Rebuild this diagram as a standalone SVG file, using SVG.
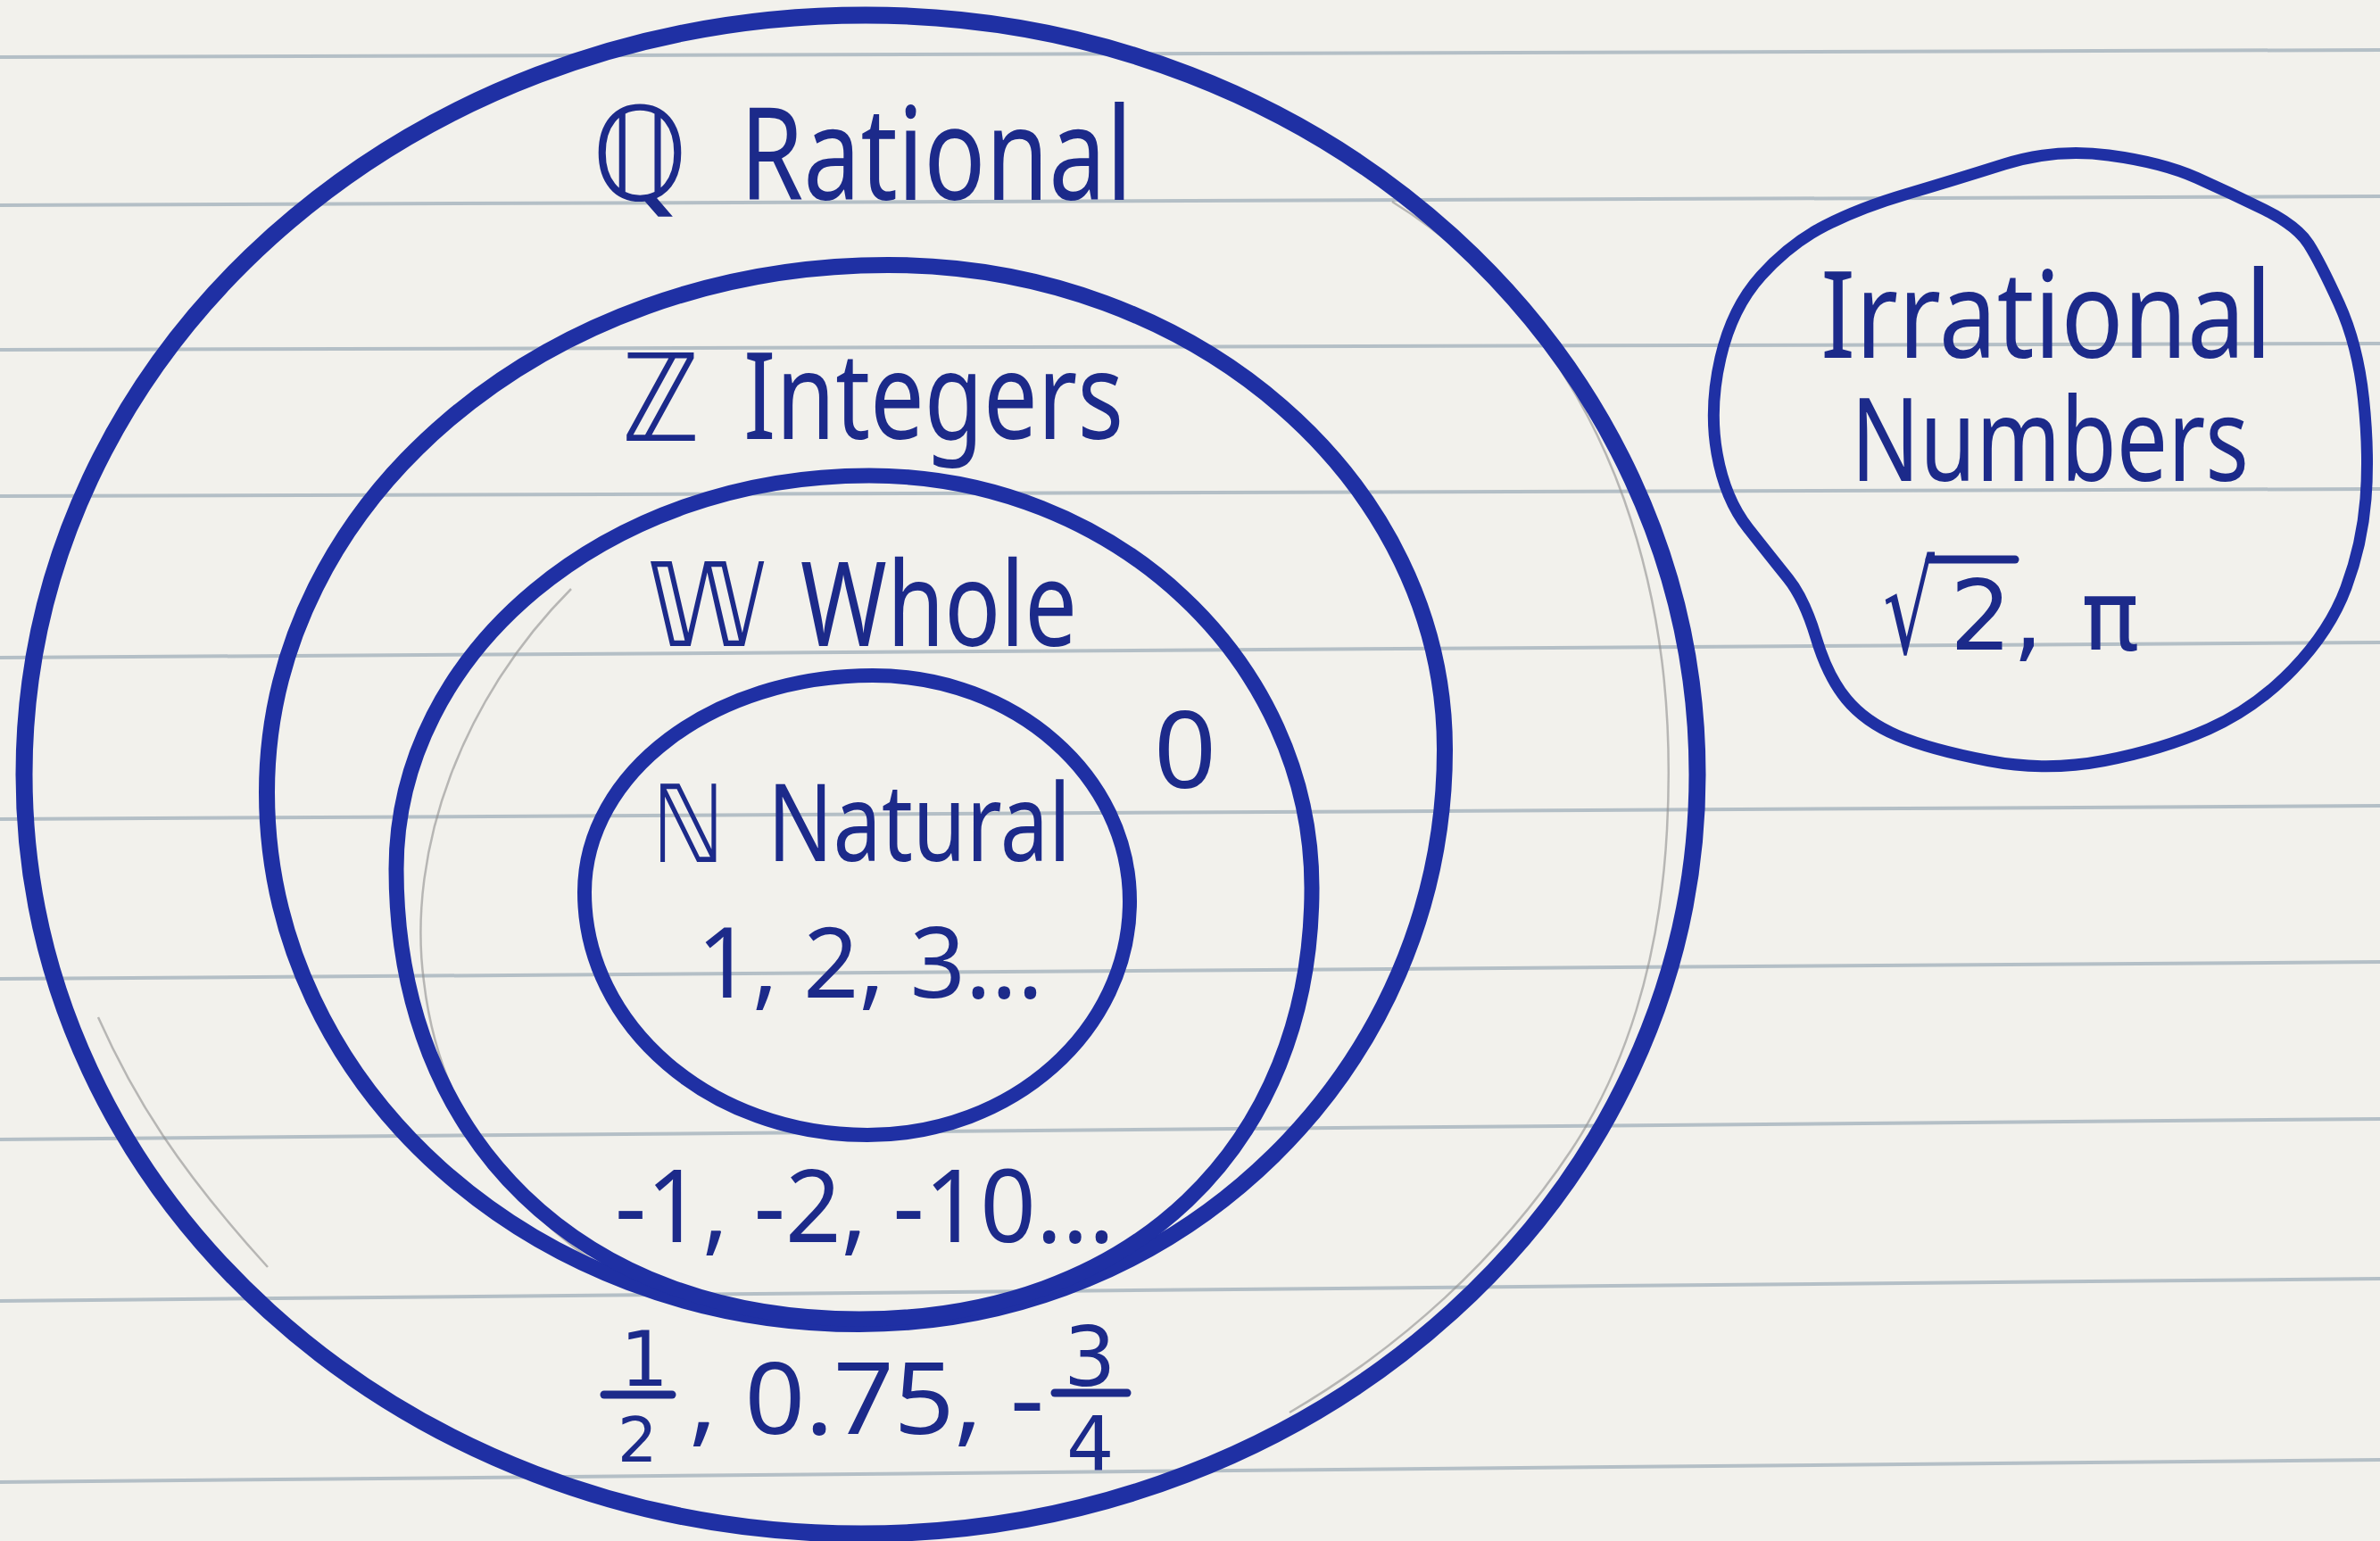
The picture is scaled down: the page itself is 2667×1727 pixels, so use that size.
<svg xmlns="http://www.w3.org/2000/svg" width="2667" height="1727" viewBox="0 0 2667 1727">
<defs>
<style>
.rule{stroke:#b4bfc6;stroke-width:4;fill:none}
.ring{fill:none;stroke:#1f30a4;stroke-linecap:round;stroke-linejoin:round}
.pencil{fill:none;stroke:#8f8f8f;stroke-width:2.5;opacity:0.6}
.w{font-family:"Noto Sans","DejaVu Sans",sans-serif;fill:#1c2a8a}
.m{font-family:"DejaVu Sans","DejaVu Serif",sans-serif;fill:#1c2a8a}
.bar{stroke:#1c2a8a;stroke-width:9;stroke-linecap:round}
</style>
</defs>
<rect width="2667" height="1727" fill="#f2f1ec"/>
<g id="paper-lines">
<line class="rule" x1="0" y1="64" x2="2667" y2="56"/>
<line class="rule" x1="0" y1="230" x2="2667" y2="220"/>
<line class="rule" x1="0" y1="392" x2="2667" y2="385"/>
<line class="rule" x1="0" y1="556" x2="2667" y2="548"/>
<line class="rule" x1="0" y1="737" x2="2667" y2="720"/>
<line class="rule" x1="0" y1="918" x2="2667" y2="903"/>
<line class="rule" x1="0" y1="1097" x2="2667" y2="1078"/>
<line class="rule" x1="0" y1="1277" x2="2667" y2="1254"/>
<line class="rule" x1="0" y1="1458" x2="2667" y2="1433"/>
<line class="rule" x1="0" y1="1661" x2="2667" y2="1636"/>
</g>
<g id="pencil-guides">
<path class="pencil" d="M1560,226 C1680,300 1770,420 1820,560 C1862,680 1875,800 1868,930 C1860,1080 1820,1200 1760,1290 C1680,1410 1570,1510 1445,1583"/>
<path class="pencil" d="M640,660 C520,780 455,950 475,1100 C490,1230 560,1340 660,1410"/>
<path class="pencil" d="M110,1140 C150,1230 200,1310 300,1420"/>
<path class="pencil" d="M1318,672 C1345,695 1370,715 1387,737"/>
</g>
<g id="rational">
<path class="ring" stroke-width="19" d="M970,17 C1485,17 1902,398 1902,868 C1902,1338 1482,1719 965,1719 C447,1719 27,1338 27,868 C27,398 449,17 970,17 Z"/>
<text class="m" x="663" y="224" font-size="145" textLength="108" lengthAdjust="spacingAndGlyphs">ℚ</text>
<text class="w" x="829" y="224" font-size="144" textLength="440" lengthAdjust="spacingAndGlyphs">Rational</text>
<text class="m" x="695" y="1553" font-size="85">1</text>
<line class="bar" x1="677" y1="1563" x2="753" y2="1563"/>
<text class="m" x="692" y="1638" font-size="70">2</text>
<text class="w" x="772" y="1607" font-size="111" textLength="398" lengthAdjust="spacingAndGlyphs">, 0.75, -</text>
<text class="m" x="1192" y="1553" font-size="92">3</text>
<line class="bar" x1="1182" y1="1561" x2="1263" y2="1561"/>
<text class="m" x="1195" y="1647" font-size="84">4</text>
</g>
<g id="integers">
<path class="ring" stroke-width="18" d="M995,297 C1340,297 1619,540 1619,840 C1619,1196 1325,1484 963,1484 C596,1484 299,1217 299,888 C299,562 611,297 995,297 Z"/>
<text class="m" x="697" y="494" font-size="136" textLength="87" lengthAdjust="spacingAndGlyphs">ℤ</text>
<text class="w" x="833" y="492" font-size="136" textLength="426" lengthAdjust="spacingAndGlyphs">Integers</text>
<text class="w" x="689" y="1392" font-size="113" textLength="560" lengthAdjust="spacingAndGlyphs">-1, -2, -10...</text>
</g>
<g id="whole">
<path class="ring" stroke-width="17" d="M974,533 C1248,533 1470,740 1470,995 C1470,1286 1267,1478 963,1478 C652,1478 444,1278 444,974 C444,730 681,533 974,533 Z"/>
<text class="m" x="725" y="724" font-size="130" textLength="134" lengthAdjust="spacingAndGlyphs">𝕎</text>
<text class="w" x="897" y="724" font-size="132" textLength="310" lengthAdjust="spacingAndGlyphs">Whole</text>
<text class="w" x="1293" y="883" font-size="119" textLength="70" lengthAdjust="spacingAndGlyphs">0</text>
</g>
<g id="natural">
<path class="ring" stroke-width="16" d="M978,757 C1137,757 1266,870 1266,1010 C1266,1155 1134,1272 972,1272 C797,1272 655,1150 655,1000 C655,866 800,757 978,757 Z"/>
<text class="m" x="730" y="966" font-size="120" textLength="82" lengthAdjust="spacingAndGlyphs">ℕ</text>
<text class="w" x="860" y="965" font-size="120" textLength="340" lengthAdjust="spacingAndGlyphs">Natural</text>
<text class="w" x="781" y="1118" font-size="109" textLength="388" lengthAdjust="spacingAndGlyphs">1, 2, 3...</text>
</g>
<g id="irrational">
<path class="ring" stroke-width="13" d="M2246,184 Q2303,166 2363,174 Q2423,182 2462,199.5 Q2501,217 2537.5,235 Q2574,253 2587,273.5 Q2600,294 2621,340 Q2642,386 2648.5,447 Q2655,508 2651,559 Q2647,610 2629,658.5 Q2611,707 2569,750.5 Q2527,794 2475,817 Q2423,840 2358,852.5 Q2293,865 2228,852.5 Q2163,840 2126.5,824.5 Q2090,809 2069,783.5 Q2048,758 2035,714.5 Q2022,671 2003.5,648 Q1985,625 1959,592 Q1933,559 1924,508 Q1915,457 1928,401 Q1941,345 1973.5,309 Q2006,273 2045,253 Q2084,233 2136.5,217.5 Q2189,202 2246,184 Z"/>
<text class="w" x="2040" y="401" font-size="136" textLength="506" lengthAdjust="spacingAndGlyphs">Irrational</text>
<text class="w" x="2074" y="539" font-size="129" textLength="446" lengthAdjust="spacingAndGlyphs">Numbers</text>
<line class="bar" x1="2162" y1="627" x2="2258" y2="627"/>
<text class="m" font-size="109"><tspan x="2110" y="732" font-size="140" textLength="58" lengthAdjust="spacingAndGlyphs">√</tspan><tspan x="2185 2255 2290 2332" y="728">2, π</tspan></text>
</g>
</svg>
